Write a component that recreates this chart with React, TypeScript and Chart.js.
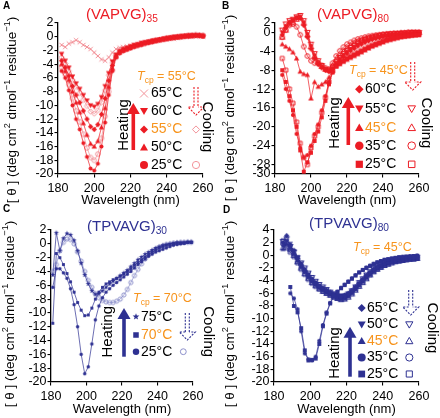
import React, { useEffect, useRef } from 'react';
import { Chart, registerables } from 'chart.js';

Chart.register(...registerables);

const FONT = '"Liberation Sans", Arial, Helvetica, sans-serif';
const RED = '#ec1c24';
const PINK = '#f2939a';
const NAVY = '#2e3192';
const NAVY_LIGHT = '#8d90cb';
const ORANGE = '#f7941d';

// ---------- data: wavelengths (nm) ----------
const A_WL = [182,184,186,188,190,192,194,196,198,200,202,204,206,208,210,212,214,216,218,220,222,224,226,228,230,232,234,236,238,240,242,244,246,248,250,252,254,256,258,260];
const B_WL = [184,186,188,190,192,194,196,198,200,202,204,206,208,210,212,214,216,218,220,222,224,226,228,230,232,234,236,238,240,242,244,246,248,250,252,254,256,258,260];
const C_WL = [181,183,185,187,189,191,193,195,197,199,201,203,205,207,209,211,213,215,217,219,221,223,225,227,229,231,233,235,237,239,241,243,245,247,249,251,253,255,257,259];
const D_WL = [185,187,189,191,193,195,197,199,201,203,205,207,209,211,213,215,217,219,221,223,225,227,229,231,233,235,237,239,241,243,245,247,249,251,253,255,257,259];

// ---------- panel A: (VAPVG)35 ----------
const A_65 = [-1.2,-1.5,-1.0,-0.8,-0.5,-0.8,-1.2,-1.5,-1.8,-2.3,-2.8,-3.3,-3.5,-3.0,-2.3,-1.8,-1.6,-1.5,-1.4,-1.3,-1.2,-1.1,-1.0,-0.9,-0.8,-0.7,-0.6,-0.5,-0.5,-0.4,-0.3,-0.3,-0.2,-0.1,0.0,0.0,0.1,0.0,0.1,0.0];
const A_60 = [-2.5,-3.5,-4.5,-5.8,-6.8,-7.6,-8.5,-9.3,-10.0,-10.2,-9.8,-8.8,-7.2,-5.3,-3.6,-2.6,-2.1,-1.8,-1.6,-1.4,-1.2,-1.1,-0.9,-0.8,-0.7,-0.6,-0.5,-0.4,-0.3,-0.2,-0.1,0.0,0.0,0.1,0.1,0.2,0.2,0.2,0.2,0.1];
const A_55_COOL = [-3.0,-3.9,-5.0,-6.3,-7.3,-8.2,-9.2,-10.1,-10.9,-11.2,-10.7,-9.6,-7.8,-5.6,-3.8,-2.7,-2.2,-1.9,-1.7,-1.5,-1.3,-1.1,-1.0,-0.9,-0.7,-0.6,-0.5,-0.4,-0.3,-0.2,-0.1,-0.1,0.0,0.1,0.1,0.1,0.2,0.2,0.2,0.2];
const A_55 = [-3.5,-4.5,-5.7,-7.2,-8.5,-9.6,-10.8,-12.0,-13.1,-13.5,-12.8,-11.3,-9.0,-6.4,-4.2,-2.8,-2.2,-1.9,-1.7,-1.5,-1.3,-1.2,-1.0,-0.9,-0.8,-0.6,-0.5,-0.4,-0.3,-0.2,-0.2,-0.1,0.0,0.0,0.1,0.1,0.2,0.2,0.2,0.1];
const A_50 = [-4.0,-5.0,-6.3,-8.0,-9.6,-11.0,-12.6,-14.3,-15.6,-16.0,-15.2,-13.2,-10.4,-7.3,-4.6,-2.9,-2.3,-2.0,-1.8,-1.6,-1.4,-1.2,-1.1,-0.9,-0.8,-0.7,-0.6,-0.5,-0.4,-0.3,-0.2,-0.1,-0.1,0.0,0.1,0.1,0.1,0.2,0.2,0.1];
const A_25_COOL = [-4.5,-5.5,-7.0,-9.0,-10.8,-12.4,-14.2,-16.2,-17.6,-18.0,-17.1,-14.8,-11.6,-8.0,-4.9,-3.0,-2.3,-2.0,-1.8,-1.6,-1.4,-1.3,-1.1,-1.0,-0.8,-0.7,-0.6,-0.5,-0.4,-0.3,-0.2,-0.1,0.0,0.0,0.1,0.2,0.2,0.3,0.2,0.2];
const A_25 = [-5.0,-6.0,-7.8,-10.0,-12.0,-13.5,-15.5,-17.5,-19.2,-19.5,-18.5,-16.0,-12.5,-8.5,-5.0,-3.0,-2.4,-2.1,-1.9,-1.7,-1.5,-1.3,-1.2,-1.0,-0.9,-0.8,-0.6,-0.5,-0.4,-0.3,-0.2,-0.2,-0.1,0.0,0.0,0.1,0.1,0.2,0.1,0.1];

// ---------- panel B: (VAPVG)80 ----------
const B_YTICKS = [2, 0, -4, -8, -12, -16, -20, -24, -28, -30];
const B_25 = [-8.0,-10.5,-13.5,-16.5,-20.0,-25.0,-29.5,-27.5,-25.5,-23.0,-21.0,-18.0,-14.5,-11.0,-8.5,-7.2,-6.6,-6.1,-5.6,-5.2,-4.8,-4.4,-4.0,-3.6,-3.2,-2.8,-2.5,-2.2,-1.9,-1.6,-1.4,-1.2,-1.0,-0.9,-0.8,-0.7,-0.6,-0.5,-0.5];
const B_25_COOL = [-5.5,-8.0,-12.0,-15.0,-19.0,-23.5,-26.5,-28.0,-24.5,-22.0,-20.0,-17.0,-13.8,-10.5,-8.2,-7.0,-6.4,-5.9,-5.4,-5.0,-4.6,-4.2,-3.8,-3.4,-3.0,-2.7,-2.4,-2.1,-1.8,-1.5,-1.3,-1.1,-1.0,-0.8,-0.7,-0.6,-0.5,-0.5,-0.4];
const B_35 = [-9.0,-12.0,-14.5,-17.5,-21.5,-24.5,-26.5,-26.0,-24.0,-21.5,-19.5,-16.5,-13.5,-10.5,-8.3,-7.1,-6.5,-6.0,-5.5,-5.1,-4.7,-4.3,-3.9,-3.5,-3.1,-2.8,-2.5,-2.2,-1.9,-1.6,-1.4,-1.2,-1.0,-0.9,-0.8,-0.7,-0.6,-0.5,-0.5];
const B_45 = [-2.5,-3.0,-3.5,-4.2,-5.5,-8.3,-8.8,-9.0,-14.0,-10.5,-11.5,-11.0,-10.5,-9.5,-8.0,-7.2,-6.7,-6.2,-5.8,-5.4,-5.0,-4.6,-4.2,-3.8,-3.4,-3.0,-2.7,-2.4,-2.1,-1.8,-1.6,-1.4,-1.2,-1.0,-0.9,-0.8,-0.7,-0.6,-0.5];
const B_60 = [-0.5,1.0,2.0,2.5,3.0,3.0,1.5,-1.0,-3.5,-5.5,-6.8,-7.5,-8.0,-8.3,-7.8,-6.9,-6.0,-5.2,-4.5,-3.9,-3.4,-2.9,-2.5,-2.1,-1.8,-1.5,-1.3,-1.1,-0.9,-0.8,-0.7,-0.6,-0.5,-0.4,-0.3,-0.3,-0.2,-0.2,-0.1];
const B_55 = [0.0,1.3,2.2,2.7,3.2,3.3,2.0,-0.5,-3.0,-5.0,-6.5,-7.3,-7.9,-8.2,-7.6,-6.6,-5.7,-4.9,-4.2,-3.6,-3.1,-2.7,-2.3,-2.0,-1.7,-1.4,-1.2,-1.0,-0.9,-0.7,-0.6,-0.5,-0.4,-0.4,-0.3,-0.2,-0.2,-0.1,-0.1];
const B_55_COOL = [0.5,1.8,2.5,2.8,3.3,3.6,2.5,0.0,-2.5,-4.5,-6.0,-7.0,-7.8,-8.0,-7.3,-6.2,-5.3,-4.5,-3.8,-3.2,-2.7,-2.2,-1.8,-1.5,-1.2,-1.0,-0.8,-0.6,-0.5,-0.4,-0.3,-0.3,-0.2,-0.2,-0.1,-0.1,0.0,0.0,0.0];
const B_45_COOL = [-1.0,0.5,1.8,2.2,2.8,3.2,2.0,-0.5,-3.0,-5.0,-6.3,-7.2,-7.8,-8.0,-7.0,-5.8,-4.8,-4.0,-3.3,-2.8,-2.3,-1.9,-1.6,-1.3,-1.1,-0.9,-0.7,-0.6,-0.5,-0.4,-0.3,-0.2,-0.2,-0.1,-0.1,0.0,0.0,0.0,0.0];
const B_35_COOL = [-1.0,0.5,1.5,1.8,1.2,-0.5,-3.0,-5.0,-6.0,-6.5,-6.5,-7.0,-7.5,-7.8,-6.5,-5.0,-3.9,-3.1,-2.5,-2.1,-1.7,-1.4,-1.2,-1.0,-0.8,-0.7,-0.6,-0.5,-0.4,-0.3,-0.3,-0.2,-0.2,-0.1,-0.1,0.0,0.0,0.0,0.0];

// ---------- panel C: (TPVAVG)30 ----------
const C_75 = [-4.5,1.6,-1.0,0.8,1.5,1.3,0.5,-1.0,-2.8,-4.5,-5.8,-6.8,-7.3,-7.2,-6.8,-6.3,-5.8,-5.4,-5.0,-4.6,-4.2,-3.8,-3.3,-2.8,-2.3,-1.9,-1.5,-1.2,-0.9,-0.6,-0.4,-0.2,-0.1,0.0,0.1,0.2,0.2,0.2,0.3,0.3];
const C_70 = [-11.5,-1.4,-2.0,-3.0,-4.3,-5.5,-7.0,-8.5,-9.6,-10.4,-10.3,-9.3,-8.0,-7.0,-6.3,-5.8,-5.5,-5.2,-5.0,-4.7,-4.4,-4.0,-3.6,-3.1,-2.7,-2.3,-1.9,-1.5,-1.2,-0.9,-0.6,-0.4,-0.2,-0.1,0.0,0.1,0.1,0.1,0.2,0.2];
const C_25 = [-6.3,-3.6,-3.6,-4.2,-5.0,-6.5,-8.8,-12.0,-16.0,-18.8,-17.8,-14.5,-11.0,-9.0,-7.8,-7.0,-6.5,-6.0,-5.6,-5.2,-4.8,-4.4,-4.0,-3.5,-3.0,-2.6,-2.2,-1.8,-1.5,-1.2,-1.0,-0.8,-0.6,-0.4,-0.2,-0.1,0.0,0.1,0.2,0.2];
const C_25_COOL = [-4.0,-3.0,-1.0,0.2,0.7,0.6,0.0,-1.2,-2.5,-4.0,-5.3,-6.3,-7.2,-7.8,-8.2,-8.4,-8.5,-8.5,-8.3,-8.0,-7.4,-6.6,-5.6,-4.6,-3.7,-2.9,-2.2,-1.6,-1.2,-0.8,-0.5,-0.3,-0.1,0.0,0.1,0.1,0.2,0.2,0.2,0.2];

// ---------- panel D: (TPVAVG)80 ----------
const D_25 = [null,null,-5.0,-8.0,-9.0,-11.5,-15.0,-16.6,-16.5,-16.3,-14.0,-11.2,-9.2,-7.6,-6.5,-5.8,-5.2,-4.7,-4.2,-3.7,-3.2,-2.7,-2.3,-2.0,-1.7,-1.4,-1.1,-0.9,-0.7,-0.6,-0.5,-0.4,-0.3,-0.3,-0.2,-0.2,-0.1,-0.1];
const D_35 = [null,null,-6.0,-6.8,-8.5,-12.0,-15.5,-16.4,-16.6,-16.0,-13.5,-11.0,-9.0,-7.5,-6.4,-5.7,-5.1,-4.6,-4.1,-3.6,-3.1,-2.7,-2.3,-1.9,-1.6,-1.3,-1.1,-0.9,-0.7,-0.6,-0.5,-0.4,-0.3,-0.2,-0.2,-0.1,-0.1,0.0];
const D_65 = [2.0,3.1,1.5,0.8,-0.5,-1.5,-2.4,-3.2,-3.9,-4.4,-4.9,-5.2,-5.5,-5.8,-6.1,-6.3,-6.4,-6.3,-6.0,-5.6,-5.0,-4.4,-3.8,-3.2,-2.7,-2.2,-1.8,-1.5,-1.3,-1.1,-0.9,-0.8,-0.7,-0.6,-0.5,-0.5,-0.4,-0.4];
const D_50 = [1.5,2.2,1.8,0.6,-0.3,-1.3,-2.2,-3.0,-3.7,-4.3,-4.8,-5.2,-5.6,-6.0,-6.3,-6.6,-6.7,-6.6,-6.3,-5.8,-5.2,-4.6,-4.0,-3.4,-2.9,-2.4,-2.0,-1.7,-1.4,-1.2,-1.0,-0.9,-0.8,-0.7,-0.6,-0.5,-0.5,-0.4];
const D_45 = [1.0,1.8,1.2,0.3,-0.8,-1.8,-2.6,-3.4,-4.1,-4.6,-5.1,-5.5,-5.9,-6.2,-6.5,-6.8,-6.9,-6.8,-6.4,-5.9,-5.3,-4.7,-4.1,-3.5,-3.0,-2.5,-2.1,-1.8,-1.5,-1.3,-1.1,-1.0,-0.9,-0.8,-0.7,-0.6,-0.5,-0.5];
const D_50_COOL = [2.2,2.6,1.4,0.5,-0.4,-1.2,-2.0,-2.8,-3.5,-4.1,-4.6,-5.0,-5.4,-5.8,-6.1,-6.4,-6.5,-6.4,-6.1,-5.6,-5.0,-4.3,-3.7,-3.1,-2.6,-2.1,-1.7,-1.4,-1.2,-1.0,-0.8,-0.7,-0.6,-0.5,-0.5,-0.4,-0.4,-0.3];
const D_45_COOL = [1.2,2.0,1.0,0.0,-1.0,-2.0,-2.9,-3.6,-4.3,-4.8,-5.3,-5.7,-6.0,-6.3,-6.6,-6.8,-7.0,-6.9,-6.6,-6.1,-5.5,-4.9,-4.3,-3.7,-3.1,-2.6,-2.2,-1.9,-1.6,-1.4,-1.2,-1.0,-0.9,-0.8,-0.7,-0.6,-0.6,-0.5];
const D_35_COOL = [1.8,1.5,0.8,0.2,-0.6,-1.6,-2.5,-3.3,-4.0,-4.5,-5.0,-5.4,-5.7,-6.0,-6.3,-6.5,-6.6,-6.5,-6.2,-5.7,-5.1,-4.5,-3.9,-3.3,-2.8,-2.3,-1.9,-1.6,-1.3,-1.1,-0.9,-0.8,-0.7,-0.6,-0.5,-0.5,-0.4,-0.4];
const D_25_COOL = [2.3,1.2,0.5,-0.2,-1.2,-2.2,-3.0,-3.8,-4.4,-4.9,-5.3,-5.6,-5.9,-6.2,-6.5,-6.7,-6.8,-6.7,-6.4,-5.9,-5.3,-4.7,-4.1,-3.5,-3.0,-2.5,-2.1,-1.8,-1.5,-1.3,-1.1,-0.9,-0.8,-0.7,-0.6,-0.5,-0.5,-0.4];

const X_MIN = 180;
const X_MAX = 260;
const X_STEP = 20;

// ---------- types ----------
type Shape = 'circle' | 'triangle' | 'triangleDown' | 'diamond' | 'square' | 'cross' | 'star';
type Seg = [string, string?];

interface SeriesDef { x: number[]; y: (number | null)[]; shape: Shape; filled: boolean; color: string; size: number; }
interface RowDef { text: string; shape: Shape; color?: string; orange?: boolean; cool?: Shape; }
interface PanelDef {
  pos: [number, number];
  area: { left: number; right: number; top: number; bottom: number };
  yMin: number; yMax: number; yStep: number; yTicks?: number[];
  color: string;
  series: SeriesDef[];
  title: { main: string; sub: string; x: number; y: number };
  yTitle: { x: number; y: number };
  tcp: { value: string; x: number; y: number };
  legend: { markerX: number; textX: number; coolX: number; ys: number[]; size: number; coolColor: string; rows: RowDef[] };
  heat: { x: number; tip: number; bottom: number; tx: number; ty: number };
  cool: { x: number; top: number; tip: number; tx: number; ty: number; color: string };
}

const W = 220;
const H = 209;

const Y_TITLE: Seg[] = [['[ θ ] (deg cm'], ['2', 'sup'], [' dmol'], ['−1', 'sup'], [' residue'], ['−1', 'sup'], [')']];

const PANELS: PanelDef[] = [
  {
    pos: [0, 0],
    area: { left: 58, right: 203, top: 23, bottom: 174 },
    yMin: -20, yMax: 2, yStep: 2,
    color: RED,
    series: [
      { x: A_WL, y: A_25, shape: 'circle', filled: true, color: RED, size: 4.0 },
      { x: A_WL, y: A_50, shape: 'triangle', filled: true, color: RED, size: 5.4 },
      { x: A_WL, y: A_55, shape: 'diamond', filled: true, color: RED, size: 5.4 },
      { x: A_WL, y: A_60, shape: 'triangleDown', filled: true, color: RED, size: 5.4 },
      { x: A_WL, y: A_25_COOL, shape: 'circle', filled: false, color: PINK, size: 4.6 },
      { x: A_WL, y: A_55_COOL, shape: 'diamond', filled: false, color: PINK, size: 5.2 },
      { x: A_WL, y: A_65, shape: 'cross', filled: false, color: PINK, size: 4.4 },
    ],
    title: { main: '(VAPVG)', sub: '35', x: 122, y: 15 },
    yTitle: { x: 12, y: 110 },
    tcp: { value: '55°C', x: 137, y: 77 },
    legend: {
      markerX: 144, textX: 151, coolX: 196, ys: [93.5, 111, 129.5, 147.5, 165], size: 8, coolColor: PINK,
      rows: [
        { text: '65°C', shape: 'cross', color: PINK },
        { text: '60°C', shape: 'triangleDown' },
        { text: '55°C', shape: 'diamond', orange: true, cool: 'diamond' },
        { text: '50°C', shape: 'triangle' },
        { text: '25°C', shape: 'circle', cool: 'circle' },
      ],
    },
    heat: { x: 133.3, tip: 103, bottom: 150, tx: 123.5, ty: 125 },
    cool: { x: 196, top: 87, tip: 115, tx: 207.5, ty: 127, color: RED },
  },
  {
    pos: [220, 0],
    area: { left: 55, right: 199, top: 23, bottom: 174 },
    yMin: -30, yMax: 2, yStep: 2, yTicks: B_YTICKS,
    color: RED,
    series: [
      { x: B_WL, y: B_25, shape: 'square', filled: true, color: RED, size: 4.6 },
      { x: B_WL, y: B_35, shape: 'circle', filled: true, color: RED, size: 4.2 },
      { x: B_WL, y: B_45, shape: 'triangle', filled: true, color: RED, size: 5.4 },
      { x: B_WL, y: B_55, shape: 'triangleDown', filled: true, color: RED, size: 5.2 },
      { x: B_WL, y: B_60, shape: 'diamond', filled: true, color: RED, size: 5.4 },
      { x: B_WL, y: B_25_COOL, shape: 'square', filled: false, color: RED, size: 4.6 },
      { x: B_WL, y: B_35_COOL, shape: 'circle', filled: false, color: RED, size: 4.6 },
      { x: B_WL, y: B_45_COOL, shape: 'triangle', filled: false, color: RED, size: 5.4 },
      { x: B_WL, y: B_55_COOL, shape: 'triangleDown', filled: false, color: RED, size: 5.4 },
    ],
    title: { main: '(VAPVG)', sub: '80', x: 133, y: 15 },
    yTitle: { x: 10, y: 108 },
    tcp: { value: '45°C', x: 129, y: 71 },
    legend: {
      markerX: 139.3, textX: 145, coolX: 191.7, ys: [89.3, 108.7, 127.7, 145.7, 164.3], size: 8.5, coolColor: RED,
      rows: [
        { text: '60°C', shape: 'diamond' },
        { text: '55°C', shape: 'triangleDown', cool: 'triangleDown' },
        { text: '45°C', shape: 'triangle', orange: true, cool: 'triangle' },
        { text: '35°C', shape: 'circle', cool: 'circle' },
        { text: '25°C', shape: 'square', cool: 'square' },
      ],
    },
    heat: { x: 128.3, tip: 97, bottom: 145, tx: 115, ty: 123 },
    cool: { x: 192.7, top: 62, tip: 90, tx: 206, ty: 123, color: RED },
  },
  {
    pos: [0, 209],
    area: { left: 51, right: 193, top: 21, bottom: 173 },
    yMin: -20, yMax: 2, yStep: 2,
    color: NAVY,
    series: [
      { x: C_WL, y: C_25, shape: 'circle', filled: true, color: NAVY, size: 3.4 },
      { x: C_WL, y: C_70, shape: 'square', filled: true, color: NAVY, size: 3.4 },
      { x: C_WL, y: C_75, shape: 'star', filled: true, color: NAVY, size: 5.0 },
      { x: C_WL, y: C_25_COOL, shape: 'circle', filled: false, color: NAVY_LIGHT, size: 4.2 },
    ],
    title: { main: '(TPVAVG)', sub: '30', x: 127, y: 18 },
    yTitle: { x: 10, y: 105 },
    tcp: { value: '70°C', x: 133, y: 90 },
    legend: {
      markerX: 136, textX: 141, coolX: 183.3, ys: [107.7, 126, 142.7], size: 6.5, coolColor: NAVY_LIGHT,
      rows: [
        { text: '75°C', shape: 'star' },
        { text: '70°C', shape: 'square', orange: true },
        { text: '25°C', shape: 'circle', cool: 'circle' },
      ],
    },
    heat: { x: 124, tip: 99, bottom: 147.7, tx: 108, ty: 122.7 },
    cool: { x: 187.3, top: 104, tip: 131, tx: 208, ty: 122.7, color: NAVY },
  },
  {
    pos: [220, 209],
    area: { left: 54, right: 199, top: 21, bottom: 173 },
    yMin: -20, yMax: 4, yStep: 2,
    color: NAVY,
    series: [
      { x: D_WL, y: D_25, shape: 'square', filled: true, color: NAVY, size: 4.6 },
      { x: D_WL, y: D_35, shape: 'circle', filled: true, color: NAVY, size: 4.2 },
      { x: D_WL, y: D_65, shape: 'diamond', filled: true, color: NAVY, size: 5.4 },
      { x: D_WL, y: D_50, shape: 'triangleDown', filled: true, color: NAVY, size: 5.2 },
      { x: D_WL, y: D_45, shape: 'triangle', filled: true, color: NAVY, size: 5.2 },
      { x: D_WL, y: D_50_COOL, shape: 'triangleDown', filled: false, color: NAVY, size: 5.4 },
      { x: D_WL, y: D_45_COOL, shape: 'triangle', filled: false, color: NAVY, size: 5.4 },
      { x: D_WL, y: D_35_COOL, shape: 'circle', filled: false, color: NAVY, size: 4.6 },
      { x: D_WL, y: D_25_COOL, shape: 'square', filled: false, color: NAVY, size: 4.6 },
    ],
    title: { main: '(TPVAVG)', sub: '80', x: 129, y: 15 },
    yTitle: { x: 10, y: 105 },
    tcp: { value: '45°C', x: 133, y: 39 },
    legend: {
      markerX: 141.7, textX: 147, coolX: 189.3, ys: [99, 115.5, 132, 148.5, 165], size: 8, coolColor: NAVY,
      rows: [
        { text: '65°C', shape: 'diamond' },
        { text: '50°C', shape: 'triangleDown', cool: 'triangleDown' },
        { text: '45°C', shape: 'triangle', orange: true, cool: 'triangle' },
        { text: '35°C', shape: 'circle', cool: 'circle' },
        { text: '25°C', shape: 'square', cool: 'square' },
      ],
    },
    heat: { x: 130, tip: 117.7, bottom: 167.7, tx: 115, ty: 144 },
    cool: { x: 190.7, top: 81, tip: 106, tx: 211.7, ty: 119, color: NAVY },
  },
];

// ---------- drawing helpers ----------
function drawMarker(ctx: CanvasRenderingContext2D, shape: Shape, x: number, y: number, s: number, color: string, filled: boolean, lw = 1) {
  const h = s / 2;
  ctx.save();
  ctx.beginPath();
  if (shape === 'circle') ctx.arc(x, y, h, 0, Math.PI * 2);
  else if (shape === 'square') ctx.rect(x - h * 0.85, y - h * 0.85, s * 0.85, s * 0.85);
  else if (shape === 'diamond') { ctx.moveTo(x, y - h); ctx.lineTo(x + h, y); ctx.lineTo(x, y + h); ctx.lineTo(x - h, y); ctx.closePath(); }
  else if (shape === 'triangle') { ctx.moveTo(x, y - h); ctx.lineTo(x + h, y + h * 0.75); ctx.lineTo(x - h, y + h * 0.75); ctx.closePath(); }
  else if (shape === 'triangleDown') { ctx.moveTo(x, y + h); ctx.lineTo(x + h, y - h * 0.75); ctx.lineTo(x - h, y - h * 0.75); ctx.closePath(); }
  else if (shape === 'cross') { ctx.moveTo(x - h, y - h); ctx.lineTo(x + h, y + h); ctx.moveTo(x + h, y - h); ctx.lineTo(x - h, y + h); }
  else if (shape === 'star') {
    for (let i = 0; i < 10; i++) {
      const r = i % 2 === 0 ? h * 1.1 : h * 0.45;
      const a = -Math.PI / 2 + (i * Math.PI) / 5;
      const px = x + r * Math.cos(a);
      const py = y + r * Math.sin(a);
      if (i === 0) ctx.moveTo(px, py); else ctx.lineTo(px, py);
    }
    ctx.closePath();
  }
  ctx.lineWidth = lw;
  ctx.strokeStyle = color;
  ctx.fillStyle = color;
  if (shape === 'cross' || !filled) ctx.stroke(); else ctx.fill();
  ctx.restore();
}

function markerImage(shape: Shape, size: number, color: string, filled: boolean): HTMLCanvasElement {
  const c = document.createElement('canvas');
  const d = Math.ceil(size + 3);
  c.width = d;
  c.height = d;
  const g = c.getContext('2d')!;
  drawMarker(g, shape, d / 2, d / 2, size, color, filled, 1);
  return c;
}

function drawRich(ctx: CanvasRenderingContext2D, segs: Seg[], x: number, y: number, size: number, color: string, align: 'left' | 'center') {
  const small = size * 0.68;
  const fontOf = (m?: string) => `${m === 'it' ? 'italic ' : ''}${m === 'sup' || m === 'sub' ? small : size}px ${FONT}`;
  let total = 0;
  for (const [t, m] of segs) { ctx.font = fontOf(m); total += ctx.measureText(t).width; }
  let cx = align === 'center' ? x - total / 2 : x;
  ctx.fillStyle = color;
  ctx.textAlign = 'left';
  ctx.textBaseline = 'middle';
  for (const [t, m] of segs) {
    ctx.font = fontOf(m);
    const dy = m === 'sup' ? -size * 0.33 : m === 'sub' ? size * 0.3 : 0;
    ctx.fillText(t, cx, y + dy);
    cx += ctx.measureText(t).width;
  }
}

function drawHeating(ctx: CanvasRenderingContext2D, x: number, tip: number, bottom: number, color: string) {
  const headH = 11;
  const headW = 6.5;
  ctx.save();
  ctx.strokeStyle = color;
  ctx.fillStyle = color;
  ctx.lineWidth = 3.6;
  ctx.lineCap = 'butt';
  ctx.beginPath();
  ctx.moveTo(x, bottom);
  ctx.lineTo(x, tip + headH - 1);
  ctx.stroke();
  ctx.beginPath();
  ctx.moveTo(x, tip);
  ctx.lineTo(x + headW, tip + headH);
  ctx.lineTo(x - headW, tip + headH);
  ctx.closePath();
  ctx.fill();
  ctx.restore();
}

function drawCooling(ctx: CanvasRenderingContext2D, x: number, top: number, tip: number, color: string) {
  const headH = 8;
  const headW = 8;
  const hs = tip - headH;
  ctx.save();
  ctx.strokeStyle = color;
  ctx.lineWidth = 1.1;
  ctx.setLineDash([2, 1.4]);
  ctx.beginPath();
  ctx.moveTo(x - 2, top); ctx.lineTo(x - 2, hs);
  ctx.moveTo(x + 2, top); ctx.lineTo(x + 2, hs);
  ctx.stroke();
  ctx.beginPath();
  ctx.moveTo(x - 2, hs); ctx.lineTo(x - headW, hs); ctx.lineTo(x, tip); ctx.lineTo(x + headW, hs); ctx.lineTo(x + 2, hs);
  ctx.stroke();
  ctx.restore();
}

function rotatedText(ctx: CanvasRenderingContext2D, text: string, x: number, y: number, angle: number, size: number) {
  ctx.save();
  ctx.translate(x, y);
  ctx.rotate(angle);
  ctx.font = `${size}px ${FONT}`;
  ctx.fillStyle = '#000';
  ctx.textAlign = 'center';
  ctx.textBaseline = 'middle';
  ctx.fillText(text, 0, 0);
  ctx.restore();
}

function annotPlugin(def: PanelDef) {
  return {
    id: 'annot',
    afterDraw(chart: Chart) {
      const ctx = chart.ctx;
      ctx.save();
      drawRich(ctx, [[def.title.main], [def.title.sub, 'sub']], def.title.x, def.title.y, 15, def.color, 'center');
      ctx.save();
      ctx.translate(def.yTitle.x, def.yTitle.y);
      ctx.rotate(-Math.PI / 2);
      drawRich(ctx, Y_TITLE, 0, 0, 13.5, '#000', 'center');
      ctx.restore();
      drawRich(ctx, [['T', 'it'], ['cp', 'sub'], [' = ' + def.tcp.value]], def.tcp.x, def.tcp.y, 12.5, ORANGE, 'left');
      const L = def.legend;
      L.rows.forEach((row, i) => {
        const y = L.ys[i];
        drawMarker(ctx, row.shape, L.markerX, y, L.size, row.color ?? def.color, true, 1);
        drawRich(ctx, [[row.text]], L.textX, y, 14, row.orange ? ORANGE : '#000', 'left');
        if (row.cool) drawMarker(ctx, row.cool, L.coolX, y, L.size * 0.9, L.coolColor, false, 1);
      });
      drawHeating(ctx, def.heat.x, def.heat.tip, def.heat.bottom, def.color);
      rotatedText(ctx, 'Heating', def.heat.tx, def.heat.ty, -Math.PI / 2, 15);
      drawCooling(ctx, def.cool.x, def.cool.top, def.cool.tip, def.cool.color);
      rotatedText(ctx, 'Cooling', def.cool.tx, def.cool.ty, Math.PI / 2, 15);
      ctx.restore();
    },
  };
}

function Panel({ def }: { def: PanelDef }) {
  const ref = useRef<HTMLCanvasElement>(null);
  useEffect(() => {
    const canvas = ref.current;
    if (!canvas) return;
    const datasets = def.series.map((s) => {
      const img = markerImage(s.shape, s.size, s.color, s.filled);
      const data = s.x
        .map((xv, i) => ({ x: xv, y: s.y[i] }))
        .filter((p) => p.y !== null && p.y !== undefined) as { x: number; y: number }[];
      return {
        data,
        showLine: true,
        borderColor: s.color,
        borderWidth: 0.7,
        pointStyle: img,
        pointRadius: 12,
        pointHoverRadius: 12,
        pointBorderWidth: 0,
        clip: false as const,
        tension: 0,
      };
    });
    const tickFont = { family: FONT, size: 12.5 };
    const gridCfg = { display: true, drawOnChartArea: false, drawTicks: true, tickLength: 3.5, color: '#000', lineWidth: 1.1 };
    const borderCfg = { display: true, color: '#000', width: 1.3 };
    const chart = new Chart(canvas, {
      type: 'scatter',
      data: { datasets: datasets as any },
      options: {
        animation: false,
        responsive: false,
        devicePixelRatio: 1,
        events: [],
        layout: { padding: { left: 0, top: def.area.top, right: W - def.area.right, bottom: 0 } },
        plugins: { legend: { display: false }, tooltip: { enabled: false }, title: { display: false } },
        scales: {
          x: {
            type: 'linear',
            min: X_MIN,
            max: X_MAX,
            ticks: { stepSize: X_STEP, font: tickFont, color: '#000', padding: 4, maxRotation: 0, autoSkip: false },
            grid: gridCfg,
            border: borderCfg,
            title: { display: true, text: 'Wavelength (nm)', font: { family: FONT, size: 13 }, color: '#000', padding: { top: 0, bottom: 1.2 } },
            afterFit: (scale: any) => { scale.height = H - def.area.bottom; },
          },
          y: {
            type: 'linear',
            min: def.yMin,
            max: def.yMax,
            ticks: { stepSize: def.yStep, font: tickFont, color: '#000', padding: 1, autoSkip: false },
            grid: gridCfg,
            border: borderCfg,
            afterFit: (scale: any) => { scale.width = def.area.left; },
            afterBuildTicks: (scale: any) => {
              if (def.yTicks) scale.ticks = def.yTicks.map((v) => ({ value: v }));
            },
          },
        },
      } as any,
      plugins: [annotPlugin(def) as any],
    });
    return () => chart.destroy();
  }, [def]);
  return (
    <canvas
      ref={ref}
      width={W}
      height={H}
      style={{ position: 'absolute', left: def.pos[0], top: def.pos[1], width: W, height: H }}
    />
  );
}

const LETTERS: { t: string; x: number; y: number }[] = [
  { t: 'A', x: 3, y: 1 },
  { t: 'B', x: 222, y: 1 },
  { t: 'C', x: 3, y: 204 },
  { t: 'D', x: 223, y: 205 },
];

export default function App() {
  return (
    <div style={{ position: 'absolute', left: 0, top: 0, width: 440, height: 418, background: '#fff', overflow: 'hidden' }}>
      {PANELS.map((p, i) => (
        <Panel key={i} def={p} />
      ))}
      {LETTERS.map((l) => (
        <div
          key={l.t}
          style={{ position: 'absolute', left: l.x, top: l.y, font: `bold 10px ${FONT}`, lineHeight: '10px', color: '#000' }}
        >
          {l.t}
        </div>
      ))}
    </div>
  );
}
